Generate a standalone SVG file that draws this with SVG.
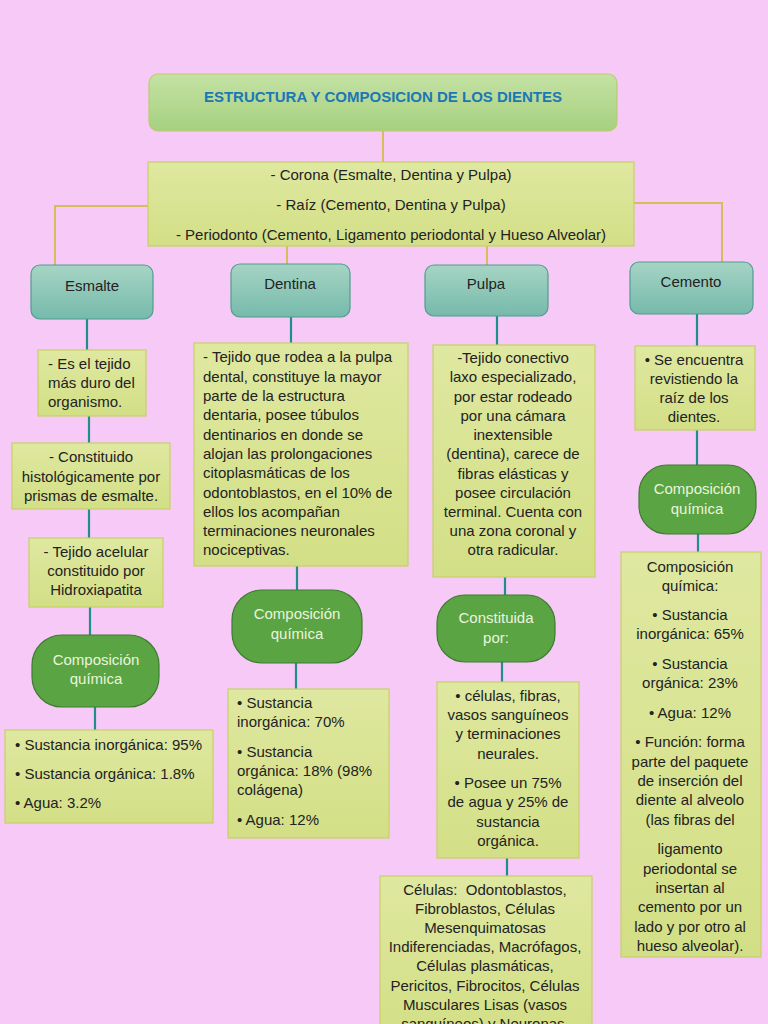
<svg xmlns="http://www.w3.org/2000/svg" width="768" height="1024" viewBox="0 0 768 1024">
<defs>
<linearGradient id="gTitle" x1="0" y1="0" x2="0" y2="1"><stop offset="0" stop-color="#c4e2a4"/><stop offset="1" stop-color="#a6d07f"/></linearGradient>
<linearGradient id="gHead" x1="0" y1="0" x2="0" y2="1"><stop offset="0" stop-color="#a6d4c4"/><stop offset="1" stop-color="#76baab"/></linearGradient>
<linearGradient id="gBox" x1="0" y1="0" x2="0" y2="1"><stop offset="0" stop-color="#dfe8a0"/><stop offset="1" stop-color="#d3df86"/></linearGradient>
<style>
.bg{fill:#f7c9f6}
.title{fill:url(#gTitle);stroke:#bccb70;stroke-width:1.2}
.head{fill:url(#gHead);stroke:#4f9e90;stroke-width:1.2}
.box{fill:url(#gBox);stroke:#c5d06a;stroke-width:1.2}
.pill{fill:#5aa444;stroke:#3d7c31;stroke-width:1.2}
.gold{stroke:#d8bb5a;stroke-width:2;fill:none}
.teal{stroke:#1e8e8c;stroke-width:2.2;fill:none}
text{font-family:"Liberation Sans",Arial,sans-serif;font-size:15px;fill:#222}
.tt{font-weight:bold;font-size:15px;fill:#1a78b6}
.c{text-anchor:middle}
.w{fill:#eaf5dc}
.pre{white-space:pre}
</style>
</defs>
<rect class="bg" x="0" y="0" width="768" height="1024"/>

<g id="connectors">
<path class="gold" d="M383 131V162"/>
<path class="gold" d="M148 206H55V265"/>
<path class="gold" d="M634 203H722V262"/>
<path class="gold" d="M287 246V264"/>
<path class="gold" d="M487 246V265"/>
<path class="teal" d="M87 319V350"/>
<path class="teal" d="M89 416V443"/>
<path class="teal" d="M89 509V538"/>
<path class="teal" d="M90 607V635"/>
<path class="teal" d="M95 707V740"/>
<path class="teal" d="M291 317V343"/>
<path class="teal" d="M297 566V590"/>
<path class="teal" d="M296 663V689"/>
<path class="teal" d="M497 316V345"/>
<path class="teal" d="M505 577V595"/>
<path class="teal" d="M502 662V682"/>
<path class="teal" d="M507 858V876"/>
<path class="teal" d="M697 314V346"/>
<path class="teal" d="M697 430V465"/>
<path class="teal" d="M698 534V552"/>
</g>

<g id="title">
<rect class="title" x="149" y="74" width="468" height="57" rx="9"/>
<text class="tt c" x="383" y="102">ESTRUCTURA Y COMPOSICION DE LOS DIENTES</text>
</g>

<g id="main">
<rect class="box" x="148" y="162" width="486" height="84"/>
<text class="c" x="391" y="180">- Corona (Esmalte, Dentina y Pulpa)</text>
<text class="c" x="391" y="210">- Raíz (Cemento, Dentina y Pulpa)</text>
<text class="c" x="391" y="240">- Periodonto (Cemento, Ligamento periodontal y Hueso Alveolar)</text>
</g>

<g id="esmalte">
<rect class="head" x="31" y="265" width="122" height="54" rx="9"/>
<text class="c" x="92" y="291">Esmalte</text>
</g>
<g id="dentina">
<rect class="head" x="231" y="264" width="119" height="53" rx="9"/>
<text class="c" x="290" y="289">Dentina</text>
</g>
<g id="pulpa">
<rect class="head" x="425" y="265" width="123" height="51" rx="9"/>
<text class="c" x="486" y="289">Pulpa</text>
</g>
<g id="cemento">
<rect class="head" x="630" y="262" width="123" height="52" rx="9"/>
<text class="c" x="691" y="287">Cemento</text>
</g>

<g id="esm1">
<rect class="box" x="38" y="350" width="108" height="66"/>
<text x="48" y="369">- Es el tejido</text>
<text x="48" y="388">más duro del</text>
<text x="48" y="407">organismo.</text>
</g>
<g id="esm2">
<rect class="box" x="12" y="443" width="158" height="66"/>
<text class="c" x="91" y="462">- Constituido</text>
<text class="c" x="91" y="482">histológicamente por</text>
<text class="c" x="91" y="501">prismas de esmalte.</text>
</g>
<g id="esm3">
<rect class="box" x="29" y="538" width="134" height="69"/>
<text class="c" x="96" y="557">- Tejido acelular</text>
<text class="c" x="96" y="576">constituido por</text>
<text class="c" x="96" y="595">Hidroxiapatita</text>
</g>
<g id="esm-comp">
<rect class="pill" x="32" y="635" width="127" height="72" rx="30"/>
<text class="c w" x="96" y="665">Composición</text>
<text class="c w" x="96" y="684">química</text>
</g>
<g id="esm-data">
<rect class="box" x="5" y="730" width="208" height="93"/>
<text x="15" y="750">• Sustancia inorgánica: 95%</text>
<text x="15" y="779">• Sustancia orgánica: 1.8%</text>
<text x="15" y="808">• Agua: 3.2%</text>
</g>

<g id="den1">
<rect class="box" x="194" y="343" width="214" height="223"/>
<text x="203" y="362">- Tejido que rodea a la pulpa</text>
<text x="203" y="382">dental, constituye la mayor</text>
<text x="203" y="401">parte de la estructura</text>
<text x="203" y="420">dentaria, posee túbulos</text>
<text x="203" y="440">dentinarios en donde se</text>
<text x="203" y="459">alojan las prolongaciones</text>
<text x="203" y="478">citoplasmáticas de los</text>
<text x="203" y="498">odontoblastos, en el 10% de</text>
<text x="203" y="517">ellos los acompañan</text>
<text x="203" y="536">terminaciones neuronales</text>
<text x="203" y="555">nociceptivas.</text>
</g>
<g id="den-comp">
<rect class="pill" x="232" y="590" width="130" height="73" rx="30"/>
<text class="c w" x="297" y="619">Composición</text>
<text class="c w" x="297" y="639">química</text>
</g>
<g id="den-data">
<rect class="box" x="228" y="689" width="161" height="149"/>
<text x="237" y="708">• Sustancia</text>
<text x="237" y="727">inorgánica: 70%</text>
<text x="237" y="757">• Sustancia</text>
<text x="237" y="776">orgánica: 18% (98%</text>
<text x="237" y="795">colágena)</text>
<text x="237" y="825">• Agua: 12%</text>
</g>

<g id="pul1">
<rect class="box" x="433" y="345" width="162" height="232"/>
<text class="c" x="513" y="363">-Tejido conectivo</text>
<text class="c" x="513" y="382">laxo especializado,</text>
<text class="c" x="513" y="402">por estar rodeado</text>
<text class="c" x="513" y="421">por una cámara</text>
<text class="c" x="513" y="440">inextensible</text>
<text class="c" x="513" y="459">(dentina), carece de</text>
<text class="c" x="513" y="479">fibras elásticas y</text>
<text class="c" x="513" y="498">posee circulación</text>
<text class="c" x="513" y="517">terminal. Cuenta con</text>
<text class="c" x="513" y="536">una zona coronal y</text>
<text class="c" x="513" y="555">otra radicular.</text>
</g>
<g id="pul-const">
<rect class="pill" x="437" y="595" width="118" height="67" rx="28"/>
<text class="c w" x="496" y="623">Constituida</text>
<text class="c w" x="496" y="643">por:</text>
</g>
<g id="pul2">
<rect class="box" x="437" y="682" width="142" height="176"/>
<text class="c" x="508" y="701">• células, fibras,</text>
<text class="c" x="508" y="720">vasos sanguíneos</text>
<text class="c" x="508" y="739">y terminaciones</text>
<text class="c" x="508" y="759">neurales.</text>
<text class="c" x="508" y="788">• Posee un 75%</text>
<text class="c" x="508" y="807">de agua y 25% de</text>
<text class="c" x="508" y="827">sustancia</text>
<text class="c" x="508" y="846">orgánica.</text>
</g>
<g id="pul3">
<rect class="box" x="380" y="876" width="212" height="160"/>
<text class="c pre" x="485" y="895">Células:  Odontoblastos,</text>
<text class="c" x="485" y="914">Fibroblastos, Células</text>
<text class="c" x="485" y="933">Mesenquimatosas</text>
<text class="c" x="485" y="952">Indiferenciadas, Macrófagos,</text>
<text class="c" x="485" y="971">Células plasmáticas,</text>
<text class="c" x="485" y="991">Pericitos, Fibrocitos, Células</text>
<text class="c" x="485" y="1010">Musculares Lisas (vasos</text>
<text class="c" x="485" y="1029">sanguíneos) y Neuronas.</text>
</g>

<g id="cem1">
<rect class="box" x="635" y="346" width="120" height="84"/>
<text class="c" x="694" y="365">• Se encuentra</text>
<text class="c" x="694" y="384">revistiendo la</text>
<text class="c" x="694" y="403">raíz de los</text>
<text class="c" x="694" y="422">dientes.</text>
</g>
<g id="cem-comp">
<rect class="pill" x="639" y="465" width="117" height="69" rx="28"/>
<text class="c w" x="697" y="494">Composición</text>
<text class="c w" x="697" y="514">química</text>
</g>
<g id="cem2">
<rect class="box" x="621" y="552" width="140" height="405"/>
<text class="c" x="690" y="572">Composición</text>
<text class="c" x="690" y="591">química:</text>
<text class="c" x="690" y="620">• Sustancia</text>
<text class="c" x="690" y="639">inorgánica: 65%</text>
<text class="c" x="690" y="669">• Sustancia</text>
<text class="c" x="690" y="688">orgánica: 23%</text>
<text class="c" x="690" y="718">• Agua: 12%</text>
<text class="c" x="690" y="747">• Función: forma</text>
<text class="c" x="690" y="767">parte del paquete</text>
<text class="c" x="690" y="786">de inserción del</text>
<text class="c" x="690" y="805">diente al alveolo</text>
<text class="c" x="690" y="825">(las fibras del</text>
<text class="c" x="690" y="854">ligamento</text>
<text class="c" x="690" y="874">periodontal se</text>
<text class="c" x="690" y="893">insertan al</text>
<text class="c" x="690" y="912">cemento por un</text>
<text class="c" x="690" y="932">lado y por otro al</text>
<text class="c" x="690" y="951">hueso alveolar).</text>
</g>
</svg>
